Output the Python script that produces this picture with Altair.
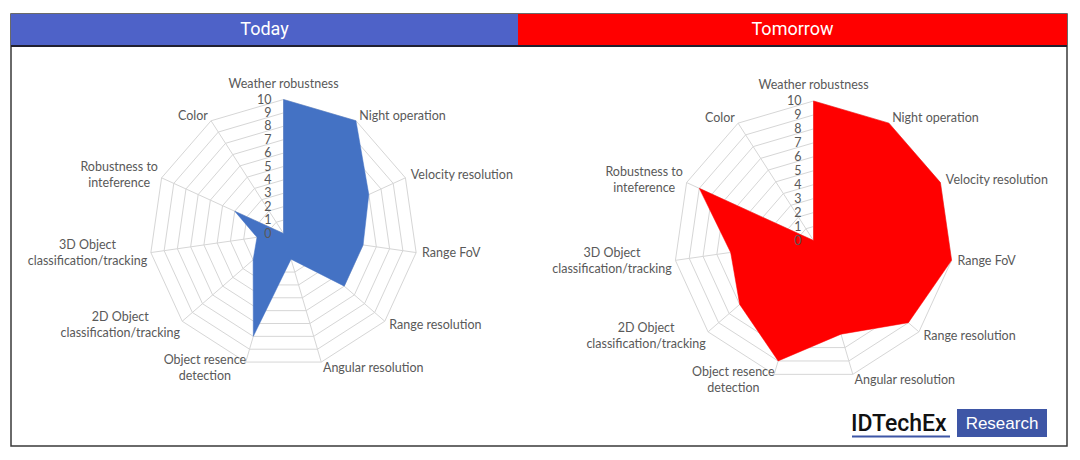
import math
import altair as alt
import pandas as pd

# ---------------- data ----------------
categories = [
    "Weather robustness", "Night operation", "Velocity resolution", "Range FoV",
    "Range resolution", "Angular resolution", "Object resence\ndetection",
    "2D Object\nclassification/tracking", "3D Object\nclassification/tracking",
    "Robustness to\ninteference", "Color",
]
today_scores = [10, 10, 7, 6, 6, 2, 8, 3, 2, 4, 0]
tomorrow_scores = [10, 10, 10, 10, 9, 7, 9, 7, 6, 9, 0]
tick_values = list(range(0, 11))
panel_titles = ["Today", "Tomorrow"]
logo_words = ["IDTechEx", "Research"]

# ---------------- layout ----------------
PAGE_W, PAGE_H = 1064, 444
X0, Y0 = 8, 8
FRAME = dict(x0=11, x1=1067, y0=14, y1=446)
HEAD_Y1 = 46
panels = [
    dict(title=panel_titles[0], scores=today_scores, cx=283.5, cy=233.5, r=134,
         fill="#4472C4", head="#4E62C8", hx0=11, hx1=518),
    dict(title=panel_titles[1], scores=tomorrow_scores, cx=813.5, cy=240.5, r=139.5,
         fill="#FF0000", head="#FF0000", hx0=518, hx1=1067),
]
N = len(categories)
FONT = "Lato"
LABEL_SIZE = 12.5
LABEL_COLOR = "#595959"
GRID_COLOR = "#D6D6D6"

# rough Lato glyph widths (em) for centring two-line labels
_cw = {c: 0.53 for c in "abdeghnopqu"}
_cw.update({"i": 0.23, "l": 0.23, "j": 0.23, "t": 0.33, "f": 0.30, "r": 0.35,
            "s": 0.40, "c": 0.45, "k": 0.50, "m": 0.80, "w": 0.72, "v": 0.48,
            "x": 0.48, "y": 0.48, "z": 0.45, "/": 0.37, " ": 0.26})


def text_w(s, size):
    return sum(_cw.get(ch, 0.62 if ch.isupper() else 0.56) for ch in s) * size


def dirv(k):
    a = 2 * math.pi * k / N
    return math.sin(a), -math.cos(a)


grid_rows, spoke_rows, poly_rows, tick_rows = [], [], [], []
lab_rows = []
for p in panels:
    cx, cy, r = p["cx"], p["cy"], p["r"]
    for lvl in range(1, 11):
        for k in range(N + 1):
            sx, sy = dirv(k % N)
            grid_rows.append(dict(g=f"{p['title']}-{lvl}", k=k,
                                  x=cx + r * lvl / 10 * sx, y=cy + r * lvl / 10 * sy))
    for k in range(N):
        sx, sy = dirv(k)
        spoke_rows.append(dict(x=cx, y=cy, x2=cx + r * sx, y2=cy + r * sy))
    for k in range(N + 1):
        sx, sy = dirv(k % N)
        v = p["scores"][k % N]
        poly_rows.append(dict(panel=p["title"], k=k,
                              x=cx + r * v / 10 * sx, y=cy + r * v / 10 * sy))
    for v in tick_values:
        tick_rows.append(dict(x=cx - 12, y=cy - r * v / 10, t=str(v)))
    for k, name in enumerate(categories):
        sx, sy = dirv(k)
        if k == 0:
            ax, ay, al = cx, cy - r - 16, "center"
        else:
            ax, ay = cx + (r + 6) * sx, cy + (r + 6) * sy
            al = "left" if sx > 0.2 else ("right" if sx < -0.2 else "center")
        lines = name.split("\n")
        if len(lines) == 1:
            lab_rows.append(dict(x=ax, y=ay, t=name, al=al))
        else:
            w = max(text_w(s, LABEL_SIZE) for s in lines)
            bx = ax - w / 2 if al == "right" else (ax + w / 2 if al == "left" else ax)
            n = len(lines)
            for i, s in enumerate(lines):
                lab_rows.append(dict(x=bx, y=ay + (i - (n - 1) / 2) * 16, t=s, al="center"))

grid_df = pd.DataFrame(grid_rows)
spoke_df = pd.DataFrame(spoke_rows)
poly_df = pd.DataFrame(poly_rows)
tick_df = pd.DataFrame(tick_rows)
lab_df = pd.DataFrame(lab_rows)

xs = alt.Scale(domain=[X0, X0 + PAGE_W], nice=False, zero=False)
ys = alt.Scale(domain=[Y0, Y0 + PAGE_H], nice=False, zero=False, reverse=True)
X = lambda f="x": alt.X(f"{f}:Q", scale=xs, axis=None)
Y = lambda f="y": alt.Y(f"{f}:Q", scale=ys, axis=None)

layers = []

# outer frame
frame_df = pd.DataFrame([dict(x=FRAME["x0"], x2=FRAME["x1"], y=FRAME["y0"], y2=FRAME["y1"])])
layers.append(alt.Chart(frame_df).mark_rect(fill="white", stroke="#3A3A3A", strokeWidth=1.5)
              .encode(x=X(), x2="x2:Q", y=Y(), y2="y2:Q"))

# header bands
head_df = pd.DataFrame([dict(x=p["hx0"], x2=p["hx1"], y=FRAME["y0"], y2=HEAD_Y1,
                             c=p["head"], t=p["title"], tx=(p["hx0"] + p["hx1"]) / 2,
                             ty=(FRAME["y0"] + HEAD_Y1) / 2) for p in panels])
layers.append(alt.Chart(head_df).mark_rect().encode(
    x=X(), x2="x2:Q", y=Y(), y2="y2:Q", fill=alt.Fill("c:N", scale=None)))
layers.append(alt.Chart(head_df).mark_text(font="Roboto", fontSize=18, color="white",
                                          baseline="middle", align="center").encode(
    x=X("tx"), y=Y("ty"), text="t:N"))
hl_df = pd.DataFrame([dict(x=FRAME["x0"], x2=FRAME["x1"], y=HEAD_Y1)])
layers.append(alt.Chart(hl_df).mark_rule(color="#202030", strokeWidth=1.8).encode(
    x=X(), x2="x2:Q", y=Y()))

# grid
layers.append(alt.Chart(grid_df).mark_line(stroke=GRID_COLOR, strokeWidth=1).encode(
    x=X(), y=Y(), detail="g:N", order="k:Q"))
layers.append(alt.Chart(spoke_df).mark_rule(color=GRID_COLOR, strokeWidth=1).encode(
    x=X(), y=Y(), x2="x2:Q", y2="y2:Q"))

# data polygons
for p in panels:
    layers.append(alt.Chart(poly_df[poly_df.panel == p["title"]]).mark_line(
        fill=p["fill"], stroke=p["fill"], strokeWidth=0.5, fillOpacity=1).encode(
        x=X(), y=Y(), order="k:Q"))

# tick labels
layers.append(alt.Chart(tick_df).mark_text(font=FONT, fontSize=12.5, color=LABEL_COLOR,
                                          align="right", baseline="middle").encode(
    x=X(), y=Y(), text="t:N"))

# category labels
for al in ["left", "right", "center"]:
    sub = lab_df[lab_df.al == al]
    if len(sub):
        layers.append(alt.Chart(sub).mark_text(font=FONT, fontSize=LABEL_SIZE, color=LABEL_COLOR,
                                              align=al, baseline="middle").encode(
            x=X(), y=Y(), text="t:N"))

# logo
logo_rect = pd.DataFrame([dict(x=957, x2=1047, y=409, y2=437)])
layers.append(alt.Chart(logo_rect).mark_rect(fill="#3E56A6").encode(
    x=X(), x2="x2:Q", y=Y(), y2="y2:Q"))
logo_txt1 = pd.DataFrame([dict(x=851, y=431, t=logo_words[0])])
layers.append(alt.Chart(logo_txt1).mark_text(font="Roboto", fontSize=23, fontWeight=500,
                                            color="#111111", align="left",
                                            baseline="alphabetic").encode(
    x=X(), y=Y(), text="t:N"))
logo_ul = pd.DataFrame([dict(x=852, x2=950, y=436.5)])
layers.append(alt.Chart(logo_ul).mark_rule(color="#3E56A6", strokeWidth=2).encode(
    x=X(), x2="x2:Q", y=Y()))
logo_txt2 = pd.DataFrame([dict(x=1002, y=423.5, t=logo_words[1])])
layers.append(alt.Chart(logo_txt2).mark_text(font="Liberation Sans", fontSize=17, color="white",
                                            align="center", baseline="middle").encode(
    x=X(), y=Y(), text="t:N"))

chart = alt.layer(*layers).properties(
    width=PAGE_W, height=PAGE_H, autosize=alt.AutoSizeParams(type="none"), padding=0,
    background="white",
).configure_view(stroke=None)

chart.save("out.html", embed_options={"renderer": "svg", "actions": False})
